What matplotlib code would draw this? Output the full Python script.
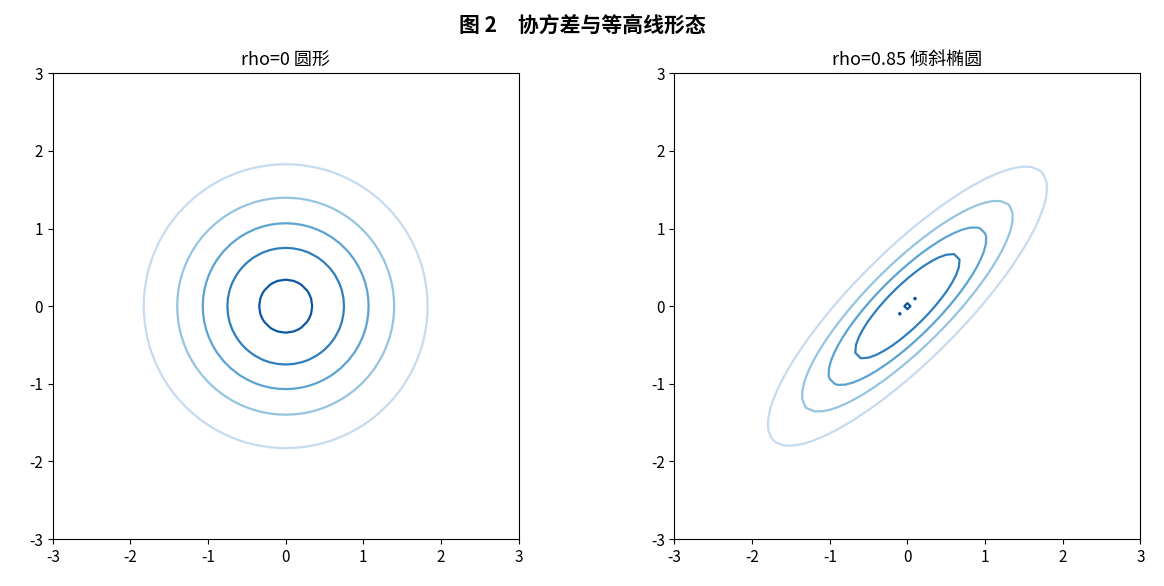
import matplotlib
matplotlib.use("Agg")
import matplotlib.pyplot as plt
import numpy as np

plt.rcParams["font.family"] = ["Noto Sans CJK SC", "DejaVu Sans"]
plt.rcParams["axes.unicode_minus"] = False

# 参数
RHOS = [0.0, 0.85]
TITLES = ["rho=0 圆形", "rho=0.85 倾斜椭圆"]
LEVELS = [[0.03, 0.06, 0.09, 0.12, 0.15],
          [0.06, 0.12, 0.18, 0.24, 0.30]]
LIM = 3
N_GRID = 61
TICKS = [-3, -2, -1, 0, 1, 2, 3]

xs = np.linspace(-LIM, LIM, N_GRID)
X, Y = np.meshgrid(xs, xs)
cols = plt.cm.Blues(np.linspace(0.25, 0.85, 5))

fig, axes = plt.subplots(1, 2, figsize=(11.64, 5.86), dpi=100)
for ax, rho, title, lv in zip(axes, RHOS, TITLES, LEVELS):
    det = 1 - rho ** 2
    Z = np.exp(-(X ** 2 - 2 * rho * X * Y + Y ** 2) / (2 * det)) / (2 * np.pi * np.sqrt(det))
    ax.contour(X, Y, Z, levels=lv, colors=cols, linewidths=1.6)
    ax.set_xlim(-LIM, LIM)
    ax.set_ylim(-LIM, LIM)
    ax.set_xticks(TICKS)
    ax.set_yticks(TICKS)
    ax.set_aspect("equal")
    ax.set_title(title, fontsize=13)
    ax.tick_params(labelsize=11)

fig.suptitle("图 2　协方差与等高线形态", fontsize=15, fontweight="bold", y=0.975)
fig.subplots_adjust(left=0.04, right=0.985, top=0.875, bottom=0.08, wspace=0.3)
fig.savefig("out.png")
